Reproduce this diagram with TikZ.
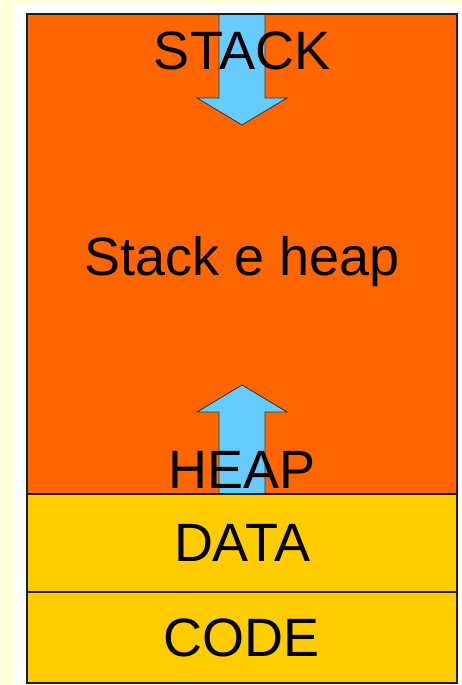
\documentclass[tikz,border=0pt]{standalone}
\usepackage{fontspec}
\setmainfont{Liberation Sans}
\usetikzlibrary{positioning}
\definecolor{cream}{HTML}{FFFFDC}
\definecolor{segorange}{HTML}{FF6600}
\definecolor{segyellow}{HTML}{FFCC00}
\definecolor{growblue}{HTML}{66CCFF}

\begin{document}
\begin{tikzpicture}[x=1pt,y=-1pt]
\tikzstyle{segment}=[rectangle,draw=black!88,line width=2pt,minimum width=430pt,inner sep=0pt,outer sep=0pt,font=\fontsize{54}{60}\selectfont]
\tikzstyle{seglabel}=[anchor=base,inner sep=0pt,font=\fontsize{54}{60}\selectfont]
\tikzstyle{growarrow}=[fill=growblue,draw=black!80,line width=0.8pt,line join=miter]
\useasboundingbox (0,0) rectangle (462,685);
\fill[cream] (0,0) rectangle (462,685);
\fill[white] (14,4) rectangle (462,685);
% memory segments
\node[segment,fill=segorange,minimum height=480pt] at (242,254) (stackheap) {};
\node[segment,fill=segyellow,minimum height=98pt,below=0pt of stackheap] (data) {DATA};
\node[segment,fill=segyellow,minimum height=91pt,below=0pt of data] (code) {CODE};
% growth arrows
\draw[growarrow] (219,14) -- (219,98) -- (197,98) -- (242,125) -- (287,98) -- (265,98) -- (265,14);
\draw[growarrow] (219,494) -- (219,412) -- (197,412) -- (242,385) -- (287,412) -- (265,412) -- (265,494);
\draw[draw=black!88,line width=2pt] (stackheap.north west) -- (stackheap.north east);
\draw[draw=black!88,line width=2pt] (stackheap.south west) -- (stackheap.south east);
\node[seglabel] at (242,70) (stack) {STACK};
\node[seglabel] at (242,275) (middle) {Stack e heap};
\node[seglabel] at (242,488) (heap) {HEAP};
\end{tikzpicture}
\end{document}
